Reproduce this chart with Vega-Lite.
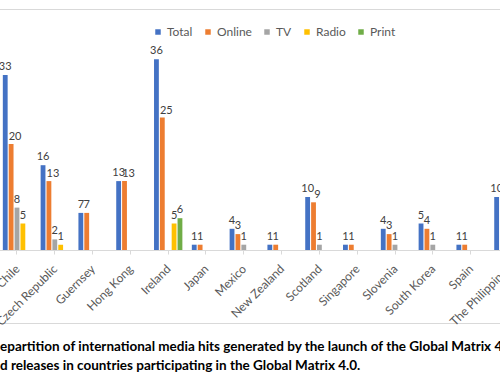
{
  "$schema": "https://vega.github.io/schema/vega-lite/v6.json",
  "autosize": {"type": "none"},
  "width": 510,
  "height": 314,
  "padding": {"left": -5, "right": -5, "top": 9, "bottom": 57},
  "background": "white",
  "config": {
    "font": "Lato",
    "view": {"stroke": "#d9d9d9", "strokeWidth": 1}
  },
  "title": {
    "text": ["epartition of international media hits generated by the launch of the Global Matrix 4.0 and", "d releases in countries participating in the Global Matrix 4.0."],
    "orient": "bottom",
    "anchor": "start",
    "frame": "group",
    "dx": 5,
    "offset": 13,
    "font": "Lato",
    "fontSize": 13.5,
    "fontWeight": "bold",
    "color": "#000000",
    "lineHeight": 19
  },
  "data": {
    "values": [
      {"country": "Chile", "type": "Total", "hits": 33},
      {"country": "Chile", "type": "Online", "hits": 20},
      {"country": "Chile", "type": "TV", "hits": 8},
      {"country": "Chile", "type": "Radio", "hits": 5},
      {"country": "Czech Republic", "type": "Total", "hits": 16},
      {"country": "Czech Republic", "type": "Online", "hits": 13},
      {"country": "Czech Republic", "type": "TV", "hits": 2},
      {"country": "Czech Republic", "type": "Radio", "hits": 1},
      {"country": "Guernsey", "type": "Total", "hits": 7},
      {"country": "Guernsey", "type": "Online", "hits": 7},
      {"country": "Hong Kong", "type": "Total", "hits": 13},
      {"country": "Hong Kong", "type": "Online", "hits": 13},
      {"country": "Ireland", "type": "Total", "hits": 36},
      {"country": "Ireland", "type": "Online", "hits": 25},
      {"country": "Ireland", "type": "Radio", "hits": 5},
      {"country": "Ireland", "type": "Print", "hits": 6},
      {"country": "Japan", "type": "Total", "hits": 1},
      {"country": "Japan", "type": "Online", "hits": 1},
      {"country": "Mexico", "type": "Total", "hits": 4},
      {"country": "Mexico", "type": "Online", "hits": 3},
      {"country": "Mexico", "type": "TV", "hits": 1},
      {"country": "New Zealand", "type": "Total", "hits": 1},
      {"country": "New Zealand", "type": "Online", "hits": 1},
      {"country": "Scotland", "type": "Total", "hits": 10},
      {"country": "Scotland", "type": "Online", "hits": 9},
      {"country": "Scotland", "type": "TV", "hits": 1},
      {"country": "Singapore", "type": "Total", "hits": 1},
      {"country": "Singapore", "type": "Online", "hits": 1},
      {"country": "Slovenia", "type": "Total", "hits": 4},
      {"country": "Slovenia", "type": "Online", "hits": 3},
      {"country": "Slovenia", "type": "TV", "hits": 1},
      {"country": "South Korea", "type": "Total", "hits": 5},
      {"country": "South Korea", "type": "Online", "hits": 4},
      {"country": "South Korea", "type": "TV", "hits": 1},
      {"country": "Spain", "type": "Total", "hits": 1},
      {"country": "Spain", "type": "Online", "hits": 1},
      {"country": "The Philippines", "type": "Total", "hits": 10}
    ]
  },
  "encoding": {
    "x": {
      "field": "country",
      "type": "nominal",
      "scale": {
        "domain": ["Chile", "Czech Republic", "Guernsey", "Hong Kong", "Ireland", "Japan", "Mexico", "New Zealand", "Scotland", "Singapore", "Slovenia", "South Korea", "Spain", "The Philippines"],
        "range": [3.1, 532.3],
        "paddingInner": 0.25,
        "paddingOuter": 0.125
      },
      "axis": {
        "title": null,
        "offset": -73,
        "labelAngle": -45,
        "labelColor": "#595959",
        "labelFontSize": 12,
        "labelPadding": 9,
        "labelOffset": -3,
        "domainColor": "#d9d9d9",
        "tickColor": "#d9d9d9",
        "tickSize": 4,
        "grid": false
      }
    },
    "xOffset": {
      "field": "type",
      "type": "nominal",
      "scale": {"domain": ["Total", "Online", "TV", "Radio", "Print"], "paddingInner": 0.18}
    },
    "y": {
      "field": "hits",
      "type": "quantitative",
      "scale": {"domain": [0, 36], "range": [241, 50.2], "nice": false},
      "axis": null
    }
  },
  "layer": [
    {
      "mark": {"type": "bar"},
      "encoding": {
        "color": {
          "field": "type",
          "type": "nominal",
          "scale": {
            "domain": ["Total", "Online", "TV", "Radio", "Print"],
            "range": ["#4472C4", "#ED7D31", "#A5A5A5", "#FFC000", "#70AD47"]
          },
          "legend": {
            "title": null,
            "orient": "none",
            "legendX": 157,
            "legendY": 17,
            "direction": "horizontal",
            "symbolType": "square",
            "symbolSize": 30,
            "symbolStrokeWidth": 0,
            "labelColor": "#595959",
            "labelFontSize": 12,
            "labelOffset": 3,
            "columnPadding": 9,
            "padding": 0
          }
        }
      }
    },
    {
      "transform": [{"filter": "!(datum.type === 'Online' && datum.hits >= 9)"}],
      "mark": {"type": "text", "baseline": "bottom", "dy": -3, "fontSize": 11, "color": "#404040"},
      "encoding": {"text": {"field": "hits", "type": "quantitative"}}
    },
    {
      "transform": [{"filter": "datum.type === 'Online' && datum.hits >= 9"}],
      "mark": {"type": "text", "baseline": "bottom", "dy": -2, "dx": 4, "fontSize": 11, "color": "#404040"},
      "encoding": {"text": {"field": "hits", "type": "quantitative"}}
    }
  ]
}
